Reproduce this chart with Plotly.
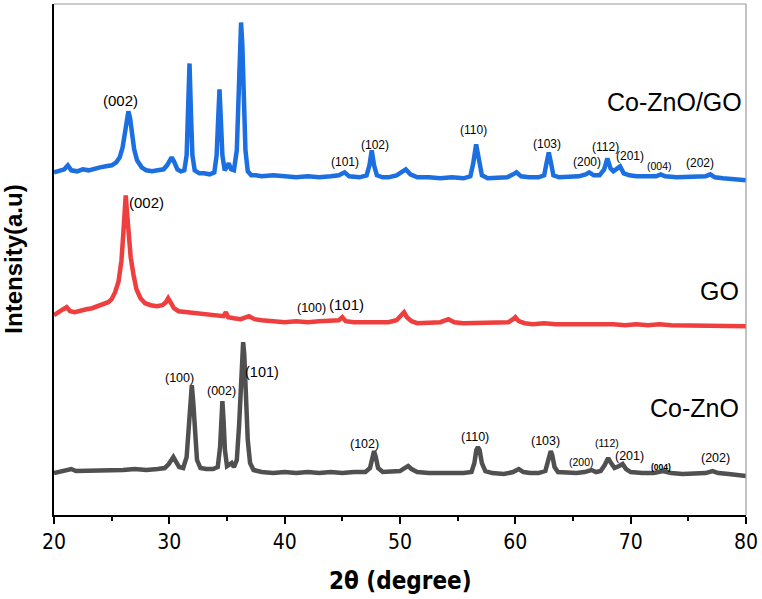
import plotly.graph_objects as go

# ---------------- data (2θ in degrees, intensity in a.u., offset stacked) ----------------
two_theta_cozno_go = [20.0, 20.5, 20.9, 21.2, 21.5, 22.0, 22.5, 23.0, 23.5, 24.0, 24.5, 25.0, 25.4, 25.7, 25.95,
    26.15, 26.3, 26.45, 26.6, 26.75, 26.95, 27.2, 27.6, 28.0, 28.5, 29.0, 29.5, 29.8, 30.05, 30.2, 30.4, 30.7,
    31.0, 31.3, 31.5, 31.62, 31.75, 31.88, 32.0, 32.2, 32.6, 33.0, 33.5, 33.9, 34.1, 34.23, 34.35, 34.47, 34.6,
    34.8, 35.0, 35.15, 35.35, 35.6, 35.85, 36.0, 36.12, 36.22, 36.33, 36.45, 36.6, 36.8, 37.1, 37.5, 38.0, 39.0,
    40.0, 41.0, 42.0, 43.0, 44.0, 44.7, 45.2, 45.6, 46.5, 47.1, 47.35, 47.55, 47.75, 48.0, 48.5, 49.0, 49.7,
    50.2, 50.5, 50.9, 51.5, 52.5, 53.5, 54.5, 55.5, 56.1, 56.35, 56.6, 56.85, 57.1, 57.6, 58.5, 59.3, 59.8, 60.1,
    60.5, 61.2, 62.0, 62.5, 62.7, 62.9, 63.1, 63.3, 63.8, 64.5, 65.5, 66.1, 66.4, 66.8, 67.3, 67.7, 67.98, 68.25,
    68.5, 68.85, 69.08, 69.4, 69.9, 70.5, 71.5, 72.2, 72.6, 73.0, 74.0, 75.0, 76.0, 76.5, 76.9, 77.3, 78.0, 79.0, 80.0]
intensity_cozno_go = [343, 345, 346, 350, 345, 344, 346, 345, 347, 348, 349, 350, 353, 358, 368,
    385, 398, 404, 397, 383, 366, 355, 348, 345, 344, 345, 346, 350, 356, 358, 354, 346,
    344, 345, 360, 400, 452, 400, 360, 345, 342, 342, 341, 343, 360, 395, 426, 395, 360,
    345, 348, 352, 346, 345, 365, 420, 470, 493, 470, 410, 365, 344, 340, 340, 339, 340,
    339, 338, 339, 338, 339, 340, 343, 339, 338, 340, 350, 365, 350, 340, 338, 338, 340,
    344, 346, 341, 338, 338, 337, 338, 337, 339, 352, 371, 352, 340, 337, 337, 338, 341, 343,
    339, 338, 338, 340, 352, 363, 352, 340, 338, 338, 339, 341, 343, 340, 340, 346, 357, 347,
    344, 347, 349, 342, 340, 339, 339, 339, 341, 339, 338, 338, 338, 339, 341, 338, 337, 336, 335]

two_theta_go = [20.0, 20.5, 20.8, 21.1, 21.4, 21.8, 22.3, 22.8, 23.3, 23.8, 24.3, 24.7, 25.0, 25.3, 25.6,
    25.85, 26.0, 26.1, 26.22, 26.35, 26.48, 26.65, 26.9, 27.15, 27.5, 27.9, 28.4, 28.9, 29.4, 29.7, 29.9, 30.1,
    30.4, 30.8, 31.5, 32.5, 33.5, 34.3, 34.7, 34.9, 35.1, 35.6, 36.2, 36.9, 37.4, 38.0, 39.0, 40.0, 41.0, 42.0,
    43.0, 44.0, 44.7, 45.0, 45.3, 46.0, 47.0, 48.0, 49.0, 49.7, 50.1, 50.35, 50.6, 51.0, 51.5, 52.5, 53.5, 54.2,
    54.7, 55.5, 56.5, 57.5, 58.5, 59.4, 59.8, 60.0, 60.3, 60.8, 61.5, 62.5, 63.5, 64.5, 65.5, 66.5, 67.5, 68.5,
    69.5, 70.5, 71.5, 72.5, 73.5, 74.5, 75.5, 76.5, 77.5, 78.5, 79.3, 80.0]
intensity_go = [200, 203, 206, 208, 204, 203, 205, 206, 207, 209, 211, 213, 216, 223, 234,
    255, 280, 300, 320, 300, 275, 258, 240, 226, 217, 212, 210, 209, 210, 213, 217, 213,
    207, 204, 203, 202, 200, 199, 199, 203, 198, 197, 196, 199, 196, 195, 194, 193, 194, 193,
    194, 194, 195, 198, 194, 193, 193, 193, 193, 195, 199, 203, 198, 194, 192, 192, 193, 196,
    193, 192, 192, 193, 192, 193, 196, 198, 194, 192, 191, 192, 191, 191, 191, 192, 191, 191,
    190, 191, 190, 191, 190, 190, 190, 190, 189, 190, 189, 189]

two_theta_cozno = [20.0, 20.5, 21.0, 21.5, 21.9, 22.5, 23.0, 23.5, 24.0, 25.0, 26.0, 27.0, 28.0, 29.0, 29.6,
    29.95, 30.2, 30.35, 30.55, 30.85, 31.2, 31.5, 31.7, 31.82, 31.95, 32.08, 32.2, 32.4, 32.7, 33.2, 33.8, 34.2,
    34.4, 34.5, 34.6, 34.7, 34.82, 35.0, 35.25, 35.4, 35.6, 35.85, 36.05, 36.2, 36.3, 36.4, 36.5, 36.62, 36.8,
    37.0, 37.3, 38.0, 39.0, 40.0, 41.0, 42.0, 43.0, 44.0, 45.0, 46.0, 47.0, 47.4, 47.6, 47.75, 47.9, 48.1, 48.5,
    49.3, 50.0, 50.4, 50.7, 51.0, 51.5, 52.5, 53.5, 54.5, 55.5, 56.2, 56.45, 56.62, 56.76, 56.9, 57.1, 57.4, 58.0,
    59.0, 59.8, 60.3, 60.7, 61.3, 62.0, 62.6, 62.8, 62.95, 63.07, 63.2, 63.4, 63.7, 64.5, 65.3, 66.0, 66.6, 67.0,
    67.4, 67.75, 68.05, 68.3, 68.6, 69.0, 69.3, 69.6, 70.0, 71.0, 72.0, 72.8, 73.5, 74.5, 75.5, 76.5, 77.1, 77.6,
    78.5, 79.3, 80.0]
intensity_cozno = [42, 43, 44, 46, 44, 44, 45, 44, 45, 45, 45, 46, 45, 46, 47,
    51, 56, 58, 54, 48, 47, 58, 90, 115, 130, 112, 85, 55, 47, 46, 46, 48,
    68, 95, 114, 95, 65, 49, 51, 52, 48, 55, 90, 135, 162, 173, 160, 125, 75,
    52, 45, 43, 42, 43, 42, 43, 42, 43, 42, 43, 43, 47, 58, 64, 58, 47, 43,
    43, 44, 47, 49, 46, 43, 42, 42, 41, 42, 43, 52, 65, 68, 65, 52, 44, 42,
    41, 43, 46, 43, 42, 42, 44, 54, 63, 64, 60, 48, 43, 42, 42, 43, 45, 43,
    44, 50, 57, 52, 47, 49, 51, 46, 43, 42, 42, 44, 42, 41, 41, 42, 44, 42,
    41, 40, 39]

series_names = ["Co-ZnO/GO", "GO", "Co-ZnO"]
series_colors = ["#1b6fe0", "#ef3e3e", "#505050"]

x_ticks = [20, 30, 40, 50, 60, 70, 80]

# peak labels: (text, 2θ, intensity, font size, bold)
labels_cozno_go = [("(002)", 25.78, 415, 15, False), ("(101)", 45.21, 353, 12, False),
    ("(102)", 47.86, 370, 12, False), ("(110)", 56.35, 385, 12, False), ("(103)", 62.76, 371, 12, False),
    ("(200)", 66.19, 353, 12, False), ("(112)", 67.85, 368, 12, False), ("(201)", 69.93, 359, 12, False),
    ("(004)", 72.46, 349, 10.5, False), ("(202)", 75.97, 352, 12, False)]
labels_go = [("(002)", 28.03, 313, 15, False), ("(100)", 42.3, 207, 12.5, False),
    ("(101)", 45.32, 211, 15, False)]
labels_cozno = [("(100)", 30.88, 137, 12.5, False), ("(002)", 34.5, 124, 12.5, False),
    ("(101)", 38.07, 143, 14.5, False), ("(102)", 46.91, 71, 12.5, False), ("(110)", 56.46, 78, 12.5, False),
    ("(103)", 62.6, 74, 12.5, False), ("(200)", 65.73, 53, 10.5, False), ("(112)", 67.92, 72, 10.5, False),
    ("(201)", 69.93, 59, 12.5, False), ("(004)", 72.66, 48, 8.5, True), ("(202)", 77.35, 57, 12.5, False)]
# series name labels: (text, 2θ, intensity)
name_labels = [("Co-ZnO/GO", 73.79, 413), ("GO", 77.67, 224), ("Co-ZnO", 75.55, 107)]

# ---------------- figure ----------------
fig = go.Figure()
for xs, ys, name, color in [(two_theta_cozno_go, intensity_cozno_go, series_names[0], series_colors[0]),
                            (two_theta_go, intensity_go, series_names[1], series_colors[1]),
                            (two_theta_cozno, intensity_cozno, series_names[2], series_colors[2])]:
    fig.add_trace(go.Scatter(x=xs, y=ys, mode="lines", name=name,
                             line=dict(color=color, width=4.5), showlegend=False))

FONT = "Liberation Sans, Arial, sans-serif"
NARROW = "Liberation Sans Narrow, Arial Narrow, DejaVu Sans Condensed, Liberation Sans, sans-serif"

annotations = []
for group in (labels_cozno_go, labels_go, labels_cozno):
    for text, x, y, size, bold in group:
        annotations.append(dict(x=x, y=y, xref="x", yref="y", showarrow=False,
                                text=f"<b>{text}</b>" if bold else text,
                                font=dict(family=FONT, size=size, color="black"),
                                xanchor="center", yanchor="middle"))
for text, x, y in name_labels:
    annotations.append(dict(x=x, y=y, xref="x", yref="y", showarrow=False, text=text,
                            font=dict(family=FONT, size=25, color="black"),
                            xanchor="center", yanchor="middle"))
annotations.append(dict(x=-0.059, y=0.5, xref="paper", yref="paper", showarrow=False,
                        text="<b>Intensity(a.u)</b>", textangle=-90,
                        font=dict(family=FONT, size=24, color="black"),
                        xanchor="center", yanchor="middle"))
annotations.append(dict(x=0.5, y=-0.129, xref="paper", yref="paper", showarrow=False,
                        text="<b>2θ (degree)</b>",
                        font=dict(family=NARROW, size=24, color="black"),
                        xanchor="center", yanchor="middle"))

fig.update_layout(
    width=762, height=599,
    margin=dict(l=54, r=13, t=4, b=84),
    paper_bgcolor="white", plot_bgcolor="white",
    annotations=annotations,
    shapes=[dict(type="line", xref="paper", yref="paper", x0=0, x1=1, y0=1, y1=1,
                 line=dict(color="#9a9a9a", width=1.2)),
            dict(type="line", xref="paper", yref="paper", x0=1, x1=1, y0=0, y1=1,
                 line=dict(color="#9a9a9a", width=1.2))],
    xaxis=dict(range=[20, 80], tickvals=x_ticks, ticktext=[str(t) for t in x_ticks],
               ticks="outside", ticklen=7, tickwidth=1.5, tickcolor="black",
               showline=True, linecolor="black", linewidth=1.5,
               showgrid=False, zeroline=False,
               tickfont=dict(family=NARROW, size=21, color="black"),
               minor=dict(dtick=5, tick0=20, ticks="outside", ticklen=4, tickwidth=1.5,
                          tickcolor="black", showgrid=False)),
    yaxis=dict(range=[0, 511.5], showline=True, linecolor="black", linewidth=1.5,
               showticklabels=False, ticks="", showgrid=False, zeroline=False),
)

fig.write_html("out.html", config={"displayModeBar": False},
               post_script="document.body.style.margin='0';document.body.style.overflow='hidden';")
